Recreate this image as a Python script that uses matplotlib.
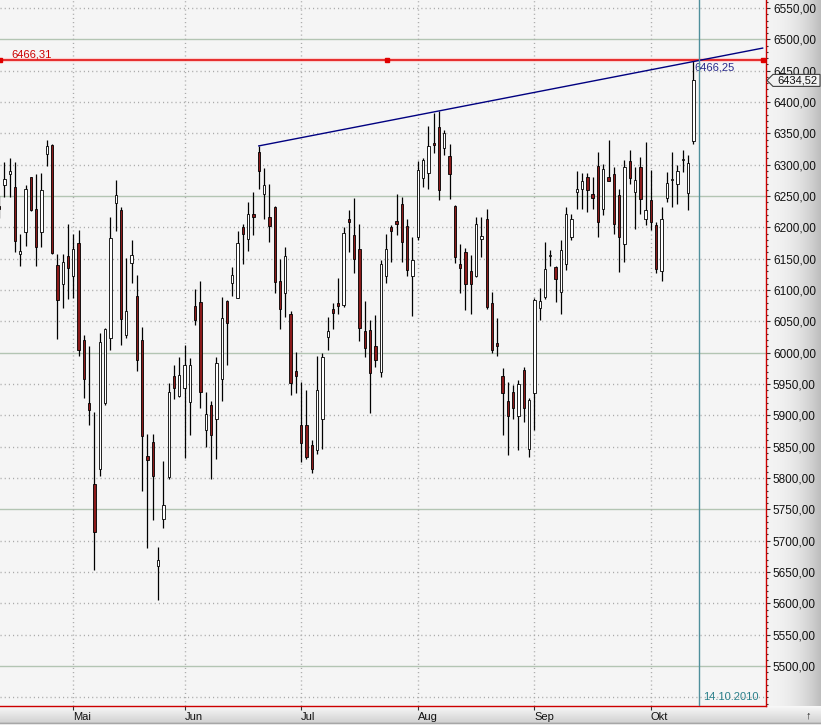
import matplotlib
matplotlib.use('Agg')
import matplotlib.pyplot as plt
import numpy as np
from matplotlib.ticker import FixedLocator, MultipleLocator, FuncFormatter
from matplotlib.patches import Polygon

plt.rcParams['font.family'] = ['Liberation Sans', 'DejaVu Sans']

# ---------------- data ----------------
opens = [6234, 6268, 6285, 6264, 6157, 6192, 6280, 6229, 6192, 6317,
         6331, 6140, 6109, 6154, 6122, 6175, 6020, 5919, 5790, 5814,
         5919, 6024, 6239, 6227, 6028, 6143, 6090, 6021, 5835, 5857,
         5660, 5734, 5801, 5963, 5931, 5943, 5922, 6074, 6081, 5876,
         5917, 5895, 5958, 6082, 6112, 6088, 6201, 6181, 6222, 6320,
         6254, 6217, 6232, 6115, 6096, 6061, 5971, 5885, 5885, 5853,
         5845, 5895, 6025, 6070, 6080, 6076, 6214, 6188, 6165, 6035,
         6037, 6011, 5970, 6123, 6200, 6210, 6237, 6202, 6122, 6185,
         6278, 6286, 6334, 6360, 6326, 6314, 6234, 6142, 6161, 6131,
         6123, 6182, 6214, 6079, 6016, 5963, 5923, 5937, 5899, 5972,
         5846, 5935, 6071, 6089, 6154, 6137, 6097, 6141, 6185, 6257,
         6261, 6281, 6254, 6298, 6230, 6280, 6285, 6251, 6173, 6306,
         6257, 6296, 6213, 6244, 6204, 6131, 6247, 6275, 6269, 6307,
         6255, 6338]
highs = [6250, 6304, 6310, 6304, 6190, 6267, 6281, 6285, 6286, 6340,
         6333, 6158, 6158, 6205, 6189, 6196, 6029, 6010, 5905, 6032,
         6040, 6217, 6276, 6233, 6151, 6180, 6124, 6041, 5871, 5871,
         5690, 5827, 5951, 5980, 5993, 6012, 5991, 6102, 6114, 5938,
         5923, 5993, 6089, 6084, 6137, 6194, 6206, 6241, 6257, 6330,
         6294, 6270, 6234, 6149, 6168, 6067, 6001, 5954, 5940, 5861,
         5995, 5999, 6057, 6079, 6120, 6201, 6228, 6247, 6205, 6082,
         6052, 6060, 6148, 6189, 6204, 6253, 6248, 6214, 6185, 6306,
         6310, 6361, 6383, 6385, 6355, 6333, 6236, 6174, 6167, 6156,
         6216, 6217, 6229, 6097, 6055, 5975, 5954, 5948, 5956, 5977,
         5927, 6087, 6104, 6177, 6164, 6138, 6180, 6232, 6221, 6290,
         6287, 6286, 6281, 6320, 6301, 6339, 6296, 6262, 6308, 6323,
         6297, 6313, 6337, 6291, 6208, 6233, 6289, 6320, 6299, 6324,
         6316, 6466]
lows = [6215, 6248, 6248, 6161, 6139, 6170, 6226, 6139, 6169, 6298,
        6158, 6022, 6072, 6085, 6087, 5994, 5928, 5884, 5653, 5803,
        5916, 6004, 6195, 6012, 6023, 6112, 5971, 5780, 5688, 5733,
        5605, 5720, 5799, 5926, 5930, 5832, 5868, 6044, 5911, 5850,
        5798, 5831, 5923, 5980, 6090, 6087, 6141, 6163, 6188, 6262,
        6214, 6177, 6096, 6038, 6057, 5932, 5936, 5826, 5830, 5808,
        5839, 5847, 6004, 6038, 6061, 6073, 6160, 6127, 6018, 5993,
        5904, 5977, 5962, 6111, 6145, 6188, 6145, 6122, 6058, 6180,
        6264, 6262, 6319, 6244, 6316, 6246, 6143, 6096, 6068, 6062,
        6121, 6153, 6069, 5999, 5994, 5869, 5837, 5895, 5845, 5890,
        5833, 5877, 6052, 6086, 6139, 6081, 6061, 6132, 6180, 6229,
        6229, 6225, 6230, 6184, 6219, 6274, 6190, 6128, 6145, 6270,
        6197, 6222, 6203, 6196, 6127, 6114, 6241, 6232, 6238, 6289,
        6227, 6333]
closes = [6230, 6277, 6290, 6179, 6162, 6262, 6228, 6168, 6259, 6330,
          6159, 6084, 6144, 6135, 6166, 6005, 5958, 5908, 5714, 6017,
          6038, 6183, 6251, 6054, 6066, 6156, 5988, 5867, 5829, 5804,
          5669, 5757, 5937, 5944, 5964, 5980, 5980, 6052, 5938, 5903,
          5868, 5983, 6055, 6047, 6124, 6175, 6190, 6222, 6216, 6290,
          6267, 6202, 6113, 6069, 6155, 5951, 5963, 5856, 5833, 5815,
          5940, 5993, 6035, 6064, 6075, 6191, 6208, 6149, 6039, 6008,
          5967, 5989, 6142, 6165, 6194, 6205, 6177, 6132, 6148, 6291,
          6307, 6330, 6331, 6260, 6350, 6285, 6152, 6135, 6109, 6109,
          6205, 6186, 6073, 6004, 6010, 5935, 5899, 5911, 5950, 5911,
          5924, 6084, 6082, 6133, 6155, 6117, 6164, 6221, 6213, 6261,
          6274, 6260, 6247, 6208, 6293, 6274, 6206, 6184, 6297, 6278,
          6276, 6246, 6227, 6209, 6133, 6214, 6271, 6277, 6290, 6308,
          6303, 6434.52]

month_labels = ['Mai', 'Jun', 'Jul', 'Aug', 'Sep', 'Okt']
month_start_idx = [14, 35, 57, 79, 101, 123]
y_tick_values = list(range(5500, 6551, 50))

level_value = 6466.31
level_label = '6466,31'
trend_idx = [49, 132]
trend_values = [6330.0, 6466.25]
trend_label = '6466,25'
last_price = 6434.52
last_price_label = '6434,52'
cursor_idx = 132
cursor_date = '14.10.2010'

# ---------------- layout ----------------
W, H = 821, 725
PX_R, PX_B = 766, 706
XLIM = (0.17, 144.7)
YLIM = (5436.3, 6562.8)

fig = plt.figure(figsize=(W / 100, H / 100), dpi=100)
fig.patch.set_facecolor('#f0f0f0')

def fx(x):
    return x / W

def fy(y):
    return 1 - y / H

# gradient backgrounds
bg_r = fig.add_axes([PX_R / W, (H - PX_B) / H, (W - PX_R) / W, PX_B / H], zorder=0)
t = np.linspace(0, 1, 200)
light = np.array([0.955, 0.955, 0.955])
dark = np.array([0.74, 0.74, 0.74])
grad = light[None, :] + (dark - light)[None, :] * (t ** 2.2)[:, None]
bg_r.imshow(grad[None, :, :], aspect='auto', extent=[0, 1, 0, 1])
bg_r.set_axis_off()

bg_b = fig.add_axes([0, 0, 1, (H - PX_B) / H], zorder=0)
tv = np.linspace(0, 1, 100)
lb = np.array([0.975, 0.975, 0.975])
db = np.array([0.80, 0.80, 0.80])
gb = lb[None, :] + (db - lb)[None, :] * tv[:, None]
gb[-12:-6] = 0.60
gb[-6:] = 0.92
bg_b.imshow(np.repeat(gb[:, None, :], 2, axis=1), aspect='auto', extent=[0, 1, 0, 1])
bg_b.set_axis_off()

ax = fig.add_axes([0, (H - PX_B) / H, PX_R / W, PX_B / H], zorder=2)
ax.set_facecolor('#f5f5f5')
ax.set_xlim(*XLIM)
ax.set_ylim(*YLIM)

# grid
for v in range(5450, 6600, 50):
    if v % 250 == 0:
        ax.axhline(v, color='#b3c5b3', lw=1.0, zorder=1)
    else:
        ax.axhline(v, color='#aaaaaa', lw=1.0, ls=(0, (0.8, 2.2)), zorder=1)
for m in month_start_idx:
    ax.axvline(m, color='#aaaaaa', lw=1.0, ls=(0, (0.8, 2.2)), zorder=1)

# candles
idx = np.arange(len(opens))
o = np.array(opens, float)
c = np.array(closes, float)
hi = np.array(highs, float)
lo = np.array(lows, float)
up = c >= o
ax.vlines(idx, lo, hi, color='black', lw=0.9, zorder=3)
body_bottom = np.minimum(o, c)
body_h = np.maximum(np.abs(c - o), 1.6)
face = np.where(up, 'white', '#8b1a1a')
ax.bar(idx, body_h, bottom=body_bottom, width=0.45, color=face,
       edgecolor='black', linewidth=0.6, zorder=4)

# horizontal level line
x_line_end = 144.07
ax.plot([XLIM[0], x_line_end], [level_value] * 2, color='#ffb8b8', lw=3.0, alpha=0.6, zorder=5)
ax.plot([XLIM[0], x_line_end], [level_value] * 2, color='#e00000', lw=1.1, zorder=5)
ax.plot([XLIM[0], 73.1, x_line_end], [level_value] * 3, 's', ms=2.8,
        color='#e00000', zorder=6)
ax.text(2.4, 6475.5, level_label, color='#cc0000', fontsize=8, ha='left', va='center', zorder=6)

# trend line
slope = (trend_values[1] - trend_values[0]) / (trend_idx[1] - trend_idx[0])
ax.plot([trend_idx[0], x_line_end],
        [trend_values[0], trend_values[0] + slope * (x_line_end - trend_idx[0])],
        color='#000080', lw=1.0, zorder=7)
ax.text(131.1, 6454.5, trend_label, color='#2a2a8c', fontsize=8, ha='left', va='center', zorder=7)

# cursor line
ax.axvline(cursor_idx + 0.1, color='#4f8f9c', lw=1.0, zorder=7)
ax.text(132.8, 5450.6, cursor_date, color='#2a7f8a', fontsize=8, ha='left', va='center', zorder=7)

# spines
for s in ['top', 'left']:
    ax.spines[s].set_visible(False)
for s in ['right', 'bottom']:
    ax.spines[s].set_color('#cc0000')
    ax.spines[s].set_linewidth(1.0)

# y axis on right
ax.yaxis.tick_right()
ax.yaxis.set_major_locator(FixedLocator(y_tick_values))
ax.yaxis.set_minor_locator(MultipleLocator(10))
ax.yaxis.set_major_formatter(FuncFormatter(lambda v, p: f"{v:.2f}".replace('.', ',')))
ax.tick_params(axis='y', which='major', direction='out', length=3, width=0.8,
               color='#303030', pad=2, labelsize=8.5, labelcolor='#111111')
ax.tick_params(axis='y', which='minor', direction='out', length=1.5, width=0.8, color='#303030')

# x axis
ax.set_xticks(month_start_idx)
ax.set_xticklabels(month_labels, ha='left')
ax.tick_params(axis='x', which='major', direction='out', length=3, width=0.8,
               color='#303030', pad=1.5, labelsize=8, labelcolor='#111111')

# last price box
y_img = (YLIM[1] - last_price) / (YLIM[1] - YLIM[0]) * PX_B
pts = [(767, y_img), (773, y_img - 6), (820, y_img - 6), (820, y_img + 6), (773, y_img + 6)]
poly = Polygon([(fx(x), fy(y)) for x, y in pts], closed=True, transform=fig.transFigure,
               facecolor='#f2f2f2', edgecolor='#404040', lw=0.8, zorder=10)
fig.add_artist(poly)
fig.text(fx(777), fy(y_img), last_price_label, fontsize=8, ha='left', va='center',
         color='#111111', zorder=11)

fig.text(fx(808), fy(715), '↑', fontsize=8, ha='center', va='center', color='#222222', zorder=11)

fig.savefig('out.png', dpi=100)
